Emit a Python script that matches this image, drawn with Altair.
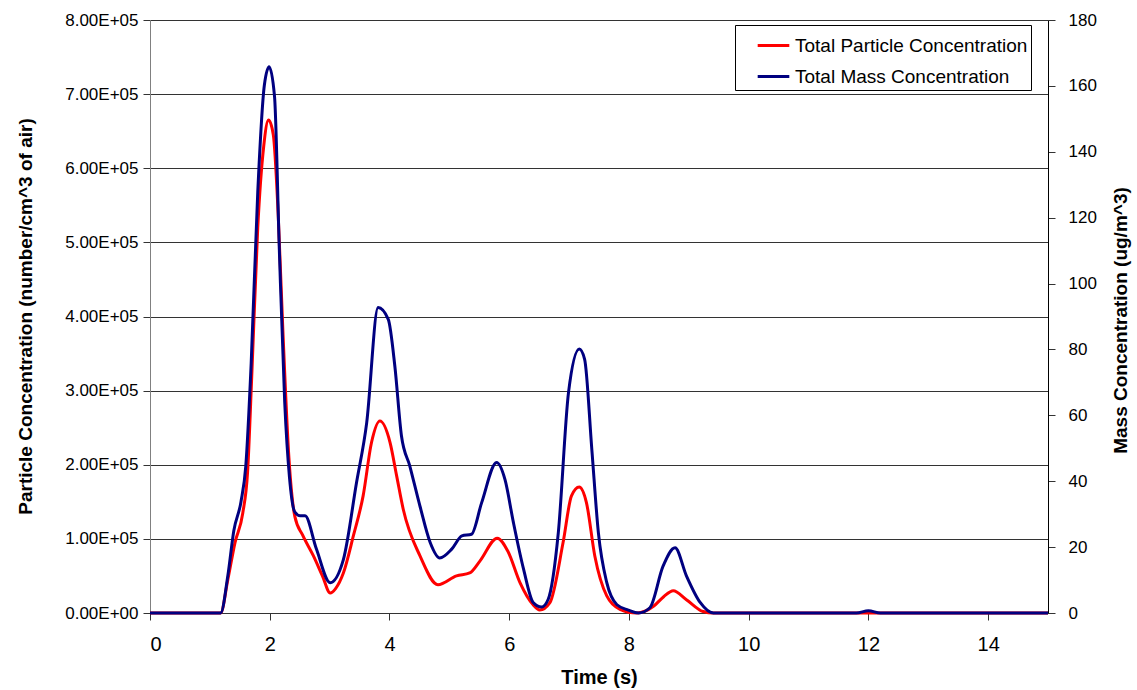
import altair as alt
import pandas as pd

# Total particle concentration (number/cm^3 of air) against time (s)
time_particle = [0, 1.0, 1.18, 1.30, 1.42, 1.55, 1.63, 1.70, 1.80, 1.90, 1.98, 2.06, 2.14,
                 2.22, 2.32, 2.42, 2.55, 2.73, 2.88, 3.01, 3.10, 3.23, 3.40, 3.56, 3.70,
                 3.84, 4.01, 4.12, 4.23, 4.51, 4.81, 5.12, 5.34, 5.51, 5.80, 5.98, 6.18,
                 6.40, 6.51, 6.68, 6.90, 7.04, 7.17, 7.29, 7.43, 7.63, 7.85, 8.13, 8.41,
                 8.58, 8.74, 8.96, 9.24, 9.41, 12.0, 15.0]
particle = [0, 0, 0, 45000, 95000, 135000, 190000, 320000, 520000, 630000, 665000, 645000,
            540000, 380000, 210000, 130000, 105000, 77000, 50000, 27000, 33000, 54000,
            105000, 158000, 230000, 259000, 230000, 185000, 140000, 77000, 38000, 50000,
            54000, 70000, 101000, 83000, 41000, 11000, 4000, 14000, 95000, 158000, 170000,
            149000, 77000, 23000, 5000, 0, 9000, 22000, 30000, 18000, 2000, 0, 0, 0]

# Total mass concentration (ug/m^3) against time (s)
time_mass = [0, 1.0, 1.18, 1.30, 1.40, 1.52, 1.60, 1.69, 1.80, 1.91, 1.99, 2.08, 2.16, 2.25,
             2.33, 2.42, 2.51, 2.59, 2.78, 3.01, 3.23, 3.45, 3.62, 3.81, 3.98, 4.09, 4.20,
             4.34, 4.51, 4.68, 4.84, 5.04, 5.21, 5.37, 5.54, 5.79, 5.93, 6.07, 6.24, 6.40,
             6.54, 6.65, 6.82, 6.99, 7.17, 7.26, 7.38, 7.49, 7.63, 7.80, 7.99, 8.16, 8.35,
             8.57, 8.77, 8.96, 9.19, 9.41, 11.8, 12.0, 12.2, 15.0]
mass = [0, 0, 0, 11.3, 25.0, 33.8, 44.6, 75.8, 127.8, 160.2, 165.8, 156.8, 110.5, 64.1,
        41.2, 30.6, 29.5, 29.5, 19.4, 9.2, 16.2, 39.6, 57.8, 92.7, 89.1, 74.9, 53.8, 44.6,
        32.4, 21.4, 16.7, 19.4, 23.4, 23.9, 33.5, 45.7, 40.5, 27.5, 13.3, 3.2, 1.8, 4.1,
        24.3, 66.8, 80.1, 77.0, 49.7, 24.3, 9.2, 2.5, 0.9, 0, 1.6, 14.2, 19.8, 11.3, 3.2,
        0, 0, 0.7, 0, 0]

series_names = ["Total Particle Concentration", "Total Mass Concentration"]
series_colors = ["#FF0000", "#000080"]

x_ticks = [0, 2, 4, 6, 8, 10, 12, 14]
left_ticks = [0, 100000, 200000, 300000, 400000, 500000, 600000, 700000, 800000]
right_ticks = [0, 20, 40, 60, 80, 100, 120, 140, 160, 180]

part_df = pd.DataFrame({"time": time_particle, "value": particle, "series": series_names[0]})
mass_df = pd.DataFrame({"time": time_mass, "value": mass, "series": series_names[1]})

FONT = "Liberation Sans"

x_enc = alt.X(
    "time:Q",
    scale=alt.Scale(domain=[0, 15], nice=False, zero=False),
    axis=alt.Axis(
        title="Time (s)", values=x_ticks, grid=False, tickSize=7, labelPadding=14,
        labelFontSize=20, titleFontSize=20, titleY=64, titleBaseline="middle",
        domainColor="#333333", tickColor="#333333",
    ),
)

color_enc = alt.Color(
    "series:N",
    scale=alt.Scale(domain=series_names, range=series_colors),
    legend=alt.Legend(
        title=None, orient="none", legendX=585, legendY=5,
        symbolType="stroke", symbolSize=1000, symbolStrokeWidth=3,
        labelFontSize=19, labelFont=FONT, labelOffset=4, labelColor="#000000",
        fillColor="white", strokeColor="#000000", padding=3, rowPadding=3,
        symbolOffset=18, labelLimit=400,
    ),
)

particle_line = alt.Chart(part_df).mark_line(
    strokeWidth=3, interpolate="monotone"
).encode(
    x=x_enc,
    y=alt.Y(
        "value:Q",
        scale=alt.Scale(domain=[0, 800000], nice=False),
        axis=alt.Axis(
            title="Particle Concentration (number/cm^3 of air)", orient="left",
            values=left_ticks,
            labelExpr="datum.value == 0 ? '0.00E+00' : format(datum.value / 100000, '.2f') + 'E+05'",
            grid=True, gridColor="#333333", gridWidth=1, tickSize=7, labelPadding=5,
            labelFontSize=17, titleFontSize=19, titleAngle=270,
            titleX=-125, titleY=296, titleBaseline="middle", titleAlign="center",
            domainColor="#808080", tickColor="#333333",
        ),
    ),
    color=color_enc,
)

mass_line = alt.Chart(mass_df).mark_line(
    strokeWidth=3, interpolate="monotone"
).encode(
    x=x_enc,
    y=alt.Y(
        "value:Q",
        scale=alt.Scale(domain=[0, 180], nice=False),
        axis=alt.Axis(
            title="Mass Concentration (ug/m^3)", orient="right",
            values=right_ticks, grid=False, tickSize=7, labelPadding=13,
            labelFontSize=17, titleFontSize=19, titleAngle=270,
            titleX=72, titleY=300, titleBaseline="middle", titleAlign="center",
            domainColor="#000000", tickColor="#333333",
        ),
    ),
    color=color_enc,
)

chart = alt.layer(particle_line, mass_line).resolve_scale(
    y="independent"
).properties(
    width=898,
    height=593,
    autosize=alt.AutoSizeParams(type="none"),
    padding={"left": 150, "top": 20, "right": 89, "bottom": 77},
    background="white",
).configure_view(
    strokeWidth=0
).configure_axis(
    labelFont=FONT, titleFont=FONT, labelColor="#000000", titleColor="#000000",
    titleFontWeight="bold",
)

chart.save("out.html", embed_options={"renderer": "svg", "actions": False})
